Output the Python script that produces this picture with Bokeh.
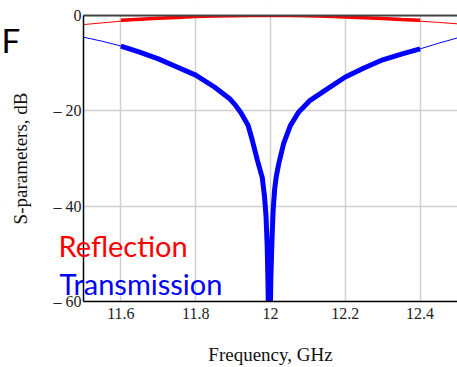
from bokeh.plotting import figure
from bokeh.models import (Range1d, FixedTicker, CustomJSTickFormatter, Label,
                          LinearAxis, BoxAnnotation)
from bokeh.embed import file_html
from bokeh.resources import INLINE

# Simulated response over the full sweep (thin lines)
freq_sim = [11.50, 11.55, 11.60, 11.65, 11.70, 11.75, 11.80, 11.85, 11.89, 11.905, 11.92,
            11.94, 11.95, 11.965, 11.978, 11.984, 11.988, 11.991, 11.993, 11.995,
            11.997, 11.999, 12.001, 12.004, 12.007, 12.011, 12.015, 12.022, 12.035,
            12.053, 12.075, 12.106, 12.15, 12.20, 12.25, 12.30, 12.35, 12.40, 12.45, 12.50]
s21_sim = [-4.55, -5.4, -6.4, -7.7, -9.1, -10.8, -12.5, -15.0, -17.4, -18.7, -20.3,
           -23.0, -25.8, -30.4, -34.0, -38.0, -42.0, -48.0, -55.0, -65.0,
           -75.0, -65.0, -55.0, -47.0, -41.0, -36.5, -34.0, -31.1, -26.9,
           -23.1, -20.3, -17.8, -15.5, -12.9, -11.0, -9.3, -8.1, -7.0, -5.8, -4.7]

freq_s11_sim = [11.50, 11.55, 11.60, 11.65, 11.70, 11.75, 11.80, 11.85, 11.90, 11.95,
                12.00, 12.05, 12.10, 12.15, 12.20, 12.25, 12.30, 12.35, 12.40, 12.45, 12.50]
s11_sim = [-1.9, -1.55, -1.2, -0.95, -0.7, -0.45, -0.25, -0.12, -0.04, 0.0,
           0.0, -0.01, -0.05, -0.15, -0.3, -0.5, -0.75, -1.0, -1.2, -1.45, -1.75]

# Measured response, 11.6-12.4 GHz (thick lines)
freq_meas = [11.60, 11.65, 11.70, 11.75, 11.80, 11.85, 11.89, 11.905, 11.92, 11.94, 11.95,
             11.965, 11.978, 11.984, 11.988, 11.991, 11.993, 11.995, 11.997, 11.999,
             12.001, 12.004, 12.007, 12.011, 12.015, 12.022, 12.035, 12.053, 12.075,
             12.106, 12.15, 12.20, 12.25, 12.30, 12.35, 12.40]
s21_meas = [-6.4, -7.7, -9.1, -10.8, -12.5, -15.0, -17.4, -18.7, -20.3, -23.0, -25.8,
            -30.4, -34.0, -38.0, -42.0, -48.0, -55.0, -65.0, -75.0, -65.0,
            -55.0, -47.0, -41.0, -36.5, -34.0, -31.1, -26.9, -23.1, -20.3,
            -17.8, -15.5, -12.9, -11.0, -9.3, -8.1, -7.0]

freq_s11_meas = [11.60, 11.65, 11.70, 11.75, 11.80, 11.85, 11.90, 11.95, 12.00,
                 12.05, 12.10, 12.15, 12.20, 12.25, 12.30, 12.35, 12.40]
s11_meas = [-1.0, -0.8, -0.6, -0.4, -0.2, -0.12, -0.05, 0.0, 0.0,
            -0.02, -0.05, -0.15, -0.3, -0.45, -0.65, -0.85, -1.0]

x_ticks = [11.6, 11.8, 12.0, 12.2, 12.4]
y_ticks = [-60, -40, -20, 0]
y_tick_labels = ["\u2013 60", "\u2013 40", "\u2013 20", "0"]
x_lo, x_hi = 11.5, 12.5
y_lo, y_hi = -60, 0

serif = "Liberation Serif"
sans = "Lato"

# Canvas geometry: the frame fills the whole canvas and the axes are pinned to the
# plotting box, so the panel letter and curve names can sit left of the y axis.
W, H = 457, 367
box_left, box_right, box_top, box_bottom = 83, 457, 15, 301
kx = (box_right - box_left) / (x_hi - x_lo)
ky = (box_bottom - box_top) / (y_hi - y_lo)
x_range = Range1d(x_lo - box_left / kx, x_hi + (W - box_right) / kx)
y_range = Range1d(y_lo - (H - box_bottom) / ky, y_hi + box_top / ky)

p = figure(width=W, height=H, output_backend="svg", toolbar_location=None,
           x_range=x_range, y_range=y_range,
           min_border_left=0, min_border_right=0, min_border_top=0, min_border_bottom=0)
p.outline_line_color = None
p.background_fill_color = "white"
p.border_fill_color = "white"

p.xaxis.ticker = FixedTicker(ticks=x_ticks)
p.yaxis.ticker = FixedTicker(ticks=y_ticks)
p.xaxis.formatter = CustomJSTickFormatter(code="return Number(tick.toFixed(1)).toString()")
p.yaxis.major_label_overrides = dict(zip(y_ticks, y_tick_labels))
p.xaxis.fixed_location = y_lo
p.yaxis.fixed_location = x_lo
p.xaxis.bounds = (x_lo, x_hi)
p.yaxis.bounds = (y_lo, y_hi)

for ax in (p.xaxis[0], p.yaxis[0]):
    ax.major_tick_line_color = None
    ax.minor_tick_line_color = None
    ax.major_tick_out = 0
    ax.major_tick_in = 0
    ax.axis_line_color = "black"
    ax.axis_line_width = 1.5
    ax.major_label_text_font = serif
    ax.major_label_text_font_size = "16px"
    ax.major_label_text_color = "#222222"
    ax.axis_label_text_font = serif
    ax.axis_label_text_font_style = "normal"
    ax.axis_label_text_font_size = "19px"
    ax.axis_label_text_color = "#111111"

p.xaxis.axis_label = "Frequency, GHz"
p.yaxis.axis_label = "S-parameters, dB"
p.xaxis.major_label_standoff = 6
p.yaxis.major_label_standoff = 2
p.xaxis.axis_label_standoff = 22
p.yaxis.axis_label_standoff = 20

# Top edge of the plotting box
top_axis = LinearAxis(fixed_location=y_hi, bounds=(x_lo, x_hi), ticker=FixedTicker(ticks=[]),
                      axis_line_color="#444444", axis_line_width=2,
                      major_tick_line_color=None, minor_tick_line_color=None,
                      major_label_text_color=None)
p.add_layout(top_axis, "above")

p.grid.grid_line_color = "#d0d0d0"
p.grid.grid_line_width = 1.5

p.line(freq_sim, s21_sim, line_color="blue", line_width=1)
p.line(freq_s11_sim, s11_sim, line_color="red", line_width=1)
p.line(freq_meas, s21_meas, line_color="blue", line_width=5)
p.line(freq_s11_meas, s11_meas, line_color="red", line_width=3.5)

# Blank margins around the plotting box (drawn over grid and curves, under the axes)
for kw in (dict(right=x_lo), dict(top=y_lo), dict(bottom=y_hi)):
    p.add_layout(BoxAnnotation(fill_color="white", fill_alpha=1, line_color=None,
                               level="glyph", **kw))

# Panel letter and curve names (screen offsets from the canvas' lower-left corner)
p.add_layout(Label(x=1, y=328, x_units="screen", y_units="screen", text="F",
                   text_font=sans, text_font_size="33px", text_color="black",
                   text_baseline="alphabetic"))
p.add_layout(Label(x=58, y=122, x_units="screen", y_units="screen", text="Reflection",
                   text_font=sans, text_font_size="29px", text_color="red",
                   text_baseline="alphabetic"))
p.add_layout(Label(x=59, y=84, x_units="screen", y_units="screen", text="Transmission",
                   text_font=sans, text_font_size="29px", text_color="blue",
                   text_baseline="alphabetic"))

open("out.html", "w").write(file_html(p, INLINE))
